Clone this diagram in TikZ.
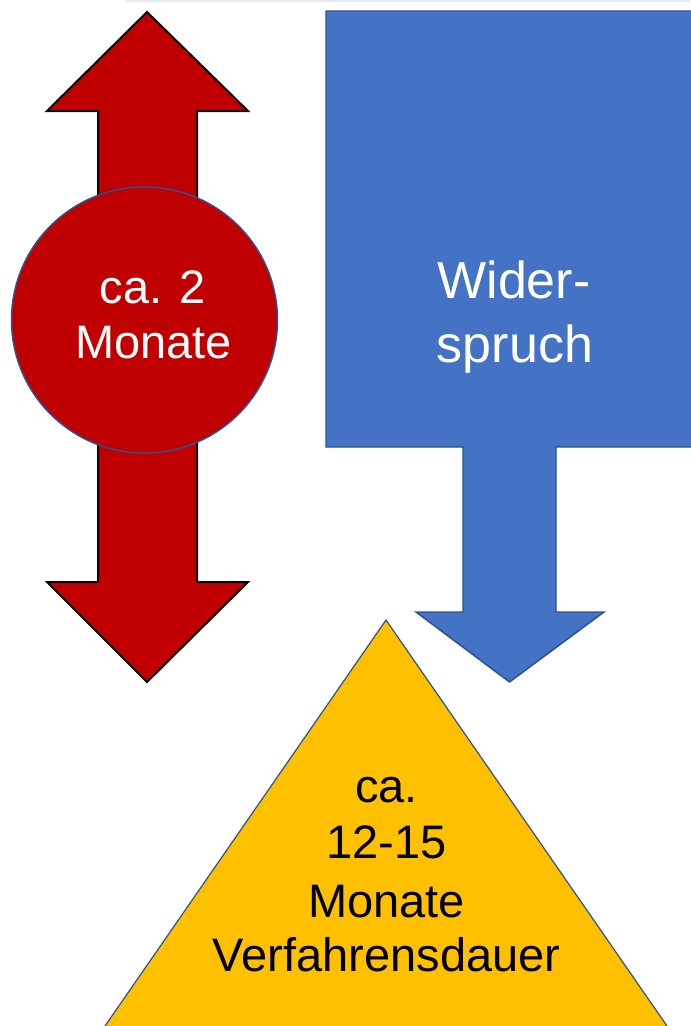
\documentclass[tikz,border=0pt]{standalone}
\usepackage{fontspec}
\setmainfont{Liberation Sans}
\definecolor{redA}{HTML}{C00000}
\definecolor{blueA}{HTML}{4472C4}
\definecolor{blueLine}{HTML}{2F528F}
\definecolor{goldA}{HTML}{FFC000}
\definecolor{topLine}{HTML}{E3EAF4}
\tikzset{
  lbl/.style={inner sep=0pt, anchor=base},
  txtS/.style={lbl, font=\fontsize{35.25}{42}\selectfont},
  txtL/.style={lbl, font=\fontsize{39}{46}\selectfont},
}
\begin{document}
\begin{tikzpicture}[x=0.75pt,y=-0.75pt]
\useasboundingbox (0,0) rectangle (690,1026);
\fill[white] (0,0) rectangle (690,1026);
% faint top line
\fill[topLine] (126,0) rectangle (690,1.6);
% red double arrow
\draw[fill=redA, draw=black, line width=1.5pt, line join=miter]
  (147,12) -- (248,111) -- (197,111) -- (197,582) -- (248,582) -- (147,682)
  -- (47,582) -- (98,582) -- (98,111) -- (47,111) -- cycle;
% red circle
\node[circle, fill=redA, draw=blueLine, line width=1.1pt, minimum size=266*0.75pt, inner sep=0pt] (circ) at (144.5,320) {};
\node[txtS, text=white] (c1) at (153,303) {ca. 2};
\node[txtS, text=white] (c2) at (153.5,358) {Monate};
% blue callout
\draw[fill=blueA, draw=blueLine, line width=1.1pt, line join=miter]
  (326,11) -- (705,11) -- (705,447) -- (556,447) -- (556,612) -- (604,612)
  -- (509.5,682) -- (416,612) -- (463,612) -- (463,447) -- (326,447) -- cycle;
\node[txtL, text=white] (w1) at (514,298) {Wider-};
\node[txtL, text=white] (w2) at (515,362) {spruch};
% triangle
\draw[fill=goldA, draw=blueLine, line width=0.9pt, line join=miter]
  (386,620) -- (676.7,1040) -- (95.3,1040) -- cycle;
\node[txtS] (t1) at (386.5,802) {ca.};
\node[txtS] (t2) at (386.5,858) {12-15};
\node[txtS] (t3) at (386.5,917) {Monate};
\node[txtS] (t4) at (386.5,971) {Verfahrensdauer};
\end{tikzpicture}
\end{document}
